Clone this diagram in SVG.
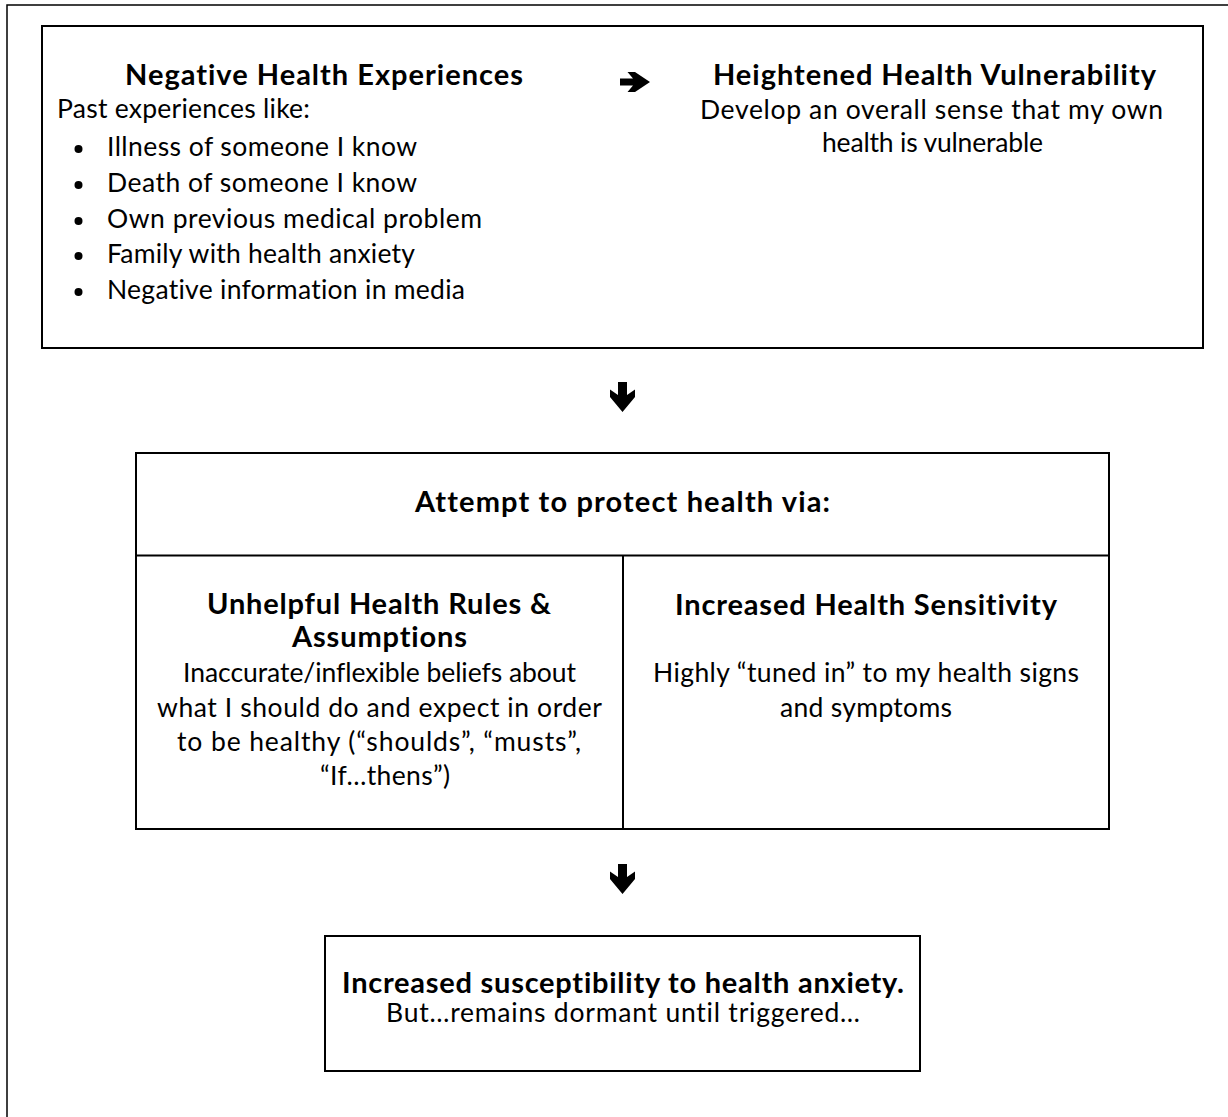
<svg xmlns="http://www.w3.org/2000/svg" width="1228" height="1117" viewBox="0 0 1228 1117">
<style>
  .box { fill: #fff; stroke: #000; stroke-width: 2; }
  .div { stroke: #000; stroke-width: 2; fill: none; }
  text { font-family: Lato, "Liberation Sans", sans-serif; fill: #000; font-variant-ligatures: none; }
  .b { font-weight: bold; font-size: 29px; }
  .r { font-size: 26.5px; }
  .arrow { fill: #000; }
</style>
<defs>
  <path id="arr" d="M-4.5,0 H4.5 V13 L12.5,7.5 V15 L0,30 L-12.5,15 V7.5 L-4.5,13 Z"/>
</defs>
<rect width="1228" height="1117" fill="#fff"/>
<path d="M7,1117 V5 H1228" fill="none" stroke="#000" stroke-width="1.5"/>

<g id="node-top">
  <rect class="box" x="42" y="26" width="1161" height="322"/>
  <g id="node-negative-health-experiences">
    <text class="b" x="125" y="85" textLength="398" lengthAdjust="spacing">Negative Health Experiences</text>
    <text class="r" x="57" y="118" textLength="253" lengthAdjust="spacing">Past experiences like:</text>
    <circle cx="78.5" cy="149" r="4"/>
    <circle cx="78.5" cy="185" r="4"/>
    <circle cx="78.5" cy="221" r="4"/>
    <circle cx="78.5" cy="256" r="4"/>
    <circle cx="78.5" cy="292" r="4"/>
    <text class="r" x="107" y="156" textLength="310" lengthAdjust="spacing">Illness of someone I know</text>
    <text class="r" x="107" y="192" textLength="310" lengthAdjust="spacing">Death of someone I know</text>
    <text class="r" x="107" y="228" textLength="375" lengthAdjust="spacing">Own previous medical problem</text>
    <text class="r" x="107" y="263" textLength="308" lengthAdjust="spacing">Family with health anxiety</text>
    <text class="r" x="107" y="299" textLength="358" lengthAdjust="spacing">Negative information in media</text>
  </g>
  <g id="node-heightened-health-vulnerability">
    <text class="b" x="713" y="85" textLength="443" lengthAdjust="spacing">Heightened Health Vulnerability</text>
    <text class="r" x="700" y="119" textLength="463" lengthAdjust="spacing">Develop an overall sense that my own</text>
    <text class="r" x="822" y="152" textLength="221" lengthAdjust="spacing">health is vulnerable</text>
  </g>
</g>

<g id="node-protect">
  <rect class="box" x="136" y="453" width="973" height="376"/>
  <line class="div" x1="136" y1="555.5" x2="1109" y2="555.5"/>
  <line class="div" x1="623" y1="555" x2="623" y2="829"/>
  <g id="node-attempt">
    <text class="b" x="415" y="512" textLength="415" lengthAdjust="spacing">Attempt to protect health via:</text>
  </g>
  <g id="node-rules">
    <text class="b" x="207" y="614" textLength="344" lengthAdjust="spacing">Unhelpful Health Rules &amp;</text>
    <text class="b" x="292" y="647" textLength="175" lengthAdjust="spacing">Assumptions</text>
    <text class="r" x="183" y="682" textLength="393" lengthAdjust="spacing">Inaccurate/inflexible beliefs about</text>
    <text class="r" x="157" y="717" textLength="445" lengthAdjust="spacing">what I should do and expect in order</text>
    <text class="r" x="177" y="751" textLength="404" lengthAdjust="spacing">to be healthy (“shoulds”, “musts”,</text>
    <text class="r" x="320" y="785" textLength="130" lengthAdjust="spacing">“If…thens”)</text>
  </g>
  <g id="node-sensitivity">
    <text class="b" x="675" y="615" textLength="382" lengthAdjust="spacing">Increased Health Sensitivity</text>
    <text class="r" x="653" y="682" textLength="426" lengthAdjust="spacing">Highly “tuned in” to my health signs</text>
    <text class="r" x="780" y="717" textLength="172" lengthAdjust="spacing">and symptoms</text>
  </g>
</g>

<g id="node-susceptibility">
  <rect class="box" x="325" y="936" width="595" height="135"/>
  <text class="b" x="342" y="993" textLength="562" lengthAdjust="spacing">Increased susceptibility to health anxiety.</text>
  <text class="r" x="386" y="1022" textLength="474" lengthAdjust="spacing">But…remains dormant until triggered…</text>
</g>

<g id="connectors">
  <use href="#arr" class="arrow" transform="translate(620,82) rotate(-90) scale(0.8,1)"/>
  <use href="#arr" class="arrow" transform="translate(622.5,382)"/>
  <use href="#arr" class="arrow" transform="translate(622.5,864)"/>
</g>
</svg>
